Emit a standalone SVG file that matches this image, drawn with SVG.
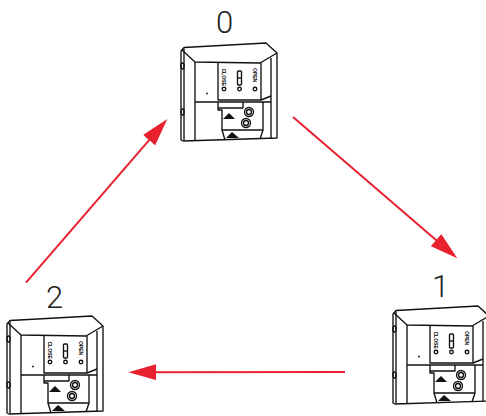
<svg xmlns="http://www.w3.org/2000/svg" xmlns:xlink="http://www.w3.org/1999/xlink" width="486" height="416" viewBox="0 0 486 416">
<style>
.lbl{font-family:Roboto,"Liberation Sans",sans-serif;font-weight:300;font-size:31px;fill:#222;text-anchor:middle}
.dl{fill:none;stroke:#111;stroke-width:1.35;stroke-linejoin:round}
.tiny{font-family:"Liberation Sans",Arial,sans-serif;font-weight:bold;font-size:5px;fill:#000}
.conn{fill:none;stroke:#e8212e;stroke-width:2}
</style>
<defs>
<marker id="ah" markerUnits="userSpaceOnUse" markerWidth="28" markerHeight="16" refX="18" refY="8" orient="auto">
<path d="M0,0 L28,8 L0,16 Z" fill="#e8212e"/>
</marker>
<g id="device">
<path class="dl" style="fill:#fff" d="M0,1 L3,-2.5 L85,-7 L96,3 L96,88 L2,91 L0,90 Z"/>
<path class="dl" d="M3,-1.5 V90"/>
<path class="dl" d="M1,0 L14,12 L79,13 L96,3"/>
<path class="dl" d="M14,12 V91"/>
<path class="dl" d="M90,8 V88.5"/>
<path class="dl" d="M37,13 V50 H80 V13"/>
<path class="dl" d="M80,50 L90,46"/>
<path class="dl" d="M14,52 H90"/>
<path class="dl" d="M37,52 V60 H41 V80 H82 V52"/>
<path class="dl" d="M37,58 H62 V52"/>
<path class="dl" d="M41,80 L44,90 M82,80 L79,89"/>
<circle class="dl" cx="68" cy="62" r="4.5"/>
<circle class="dl" cx="68" cy="62" r="2.5"/>
<circle class="dl" cx="65" cy="73" r="4.5"/>
<circle class="dl" cx="65" cy="73" r="2.5"/>
<path d="M42,69 L48,63 L54,69 Z" fill="#111"/>
<path d="M45,88 L51,82 L58,88 Z" fill="#111"/>
<circle cx="26" cy="43.5" r="0.9" fill="#111"/>
<ellipse class="dl" cx="1.5" cy="16" rx="1.6" ry="3"/>
<ellipse class="dl" cx="1.5" cy="62" rx="1.6" ry="3"/>
<text class="tiny" transform="translate(41.3,18.5) rotate(90)">CLOSE</text>
<text class="tiny" transform="translate(72.3,18) rotate(90)">OPEN</text>
<rect class="dl" x="56.5" y="21" width="4" height="14" rx="1"/>
<path class="dl" d="M56.5,28 H60.5"/>
<circle class="dl" cx="43" cy="39" r="1.8"/>
<circle class="dl" cx="58.5" cy="39" r="1.8"/>
<circle class="dl" cx="74" cy="39" r="1.8"/>
</g>
</defs>
<rect width="486" height="416" fill="#fff"/>
<g id="connectors">
<line class="conn" x1="293" y1="117" x2="449.7" y2="251.8" marker-end="url(#ah)"/>
<line class="conn" x1="345" y1="372" x2="138.3" y2="372.2" marker-end="url(#ah)"/>
<line class="conn" x1="26" y1="282.7" x2="160.8" y2="126.6" marker-end="url(#ah)"/>
</g>
<g id="node0">
<use xlink:href="#device" transform="translate(181,50)"/>
<text class="lbl" x="224.5" y="33">0</text>
</g>
<g id="node1">
<use xlink:href="#device" transform="translate(393,313)"/>
<text class="lbl" x="440.5" y="297">1</text>
</g>
<g id="node2">
<use xlink:href="#device" transform="translate(7,323)"/>
<text class="lbl" x="54.7" y="308">2</text>
</g>
</svg>
